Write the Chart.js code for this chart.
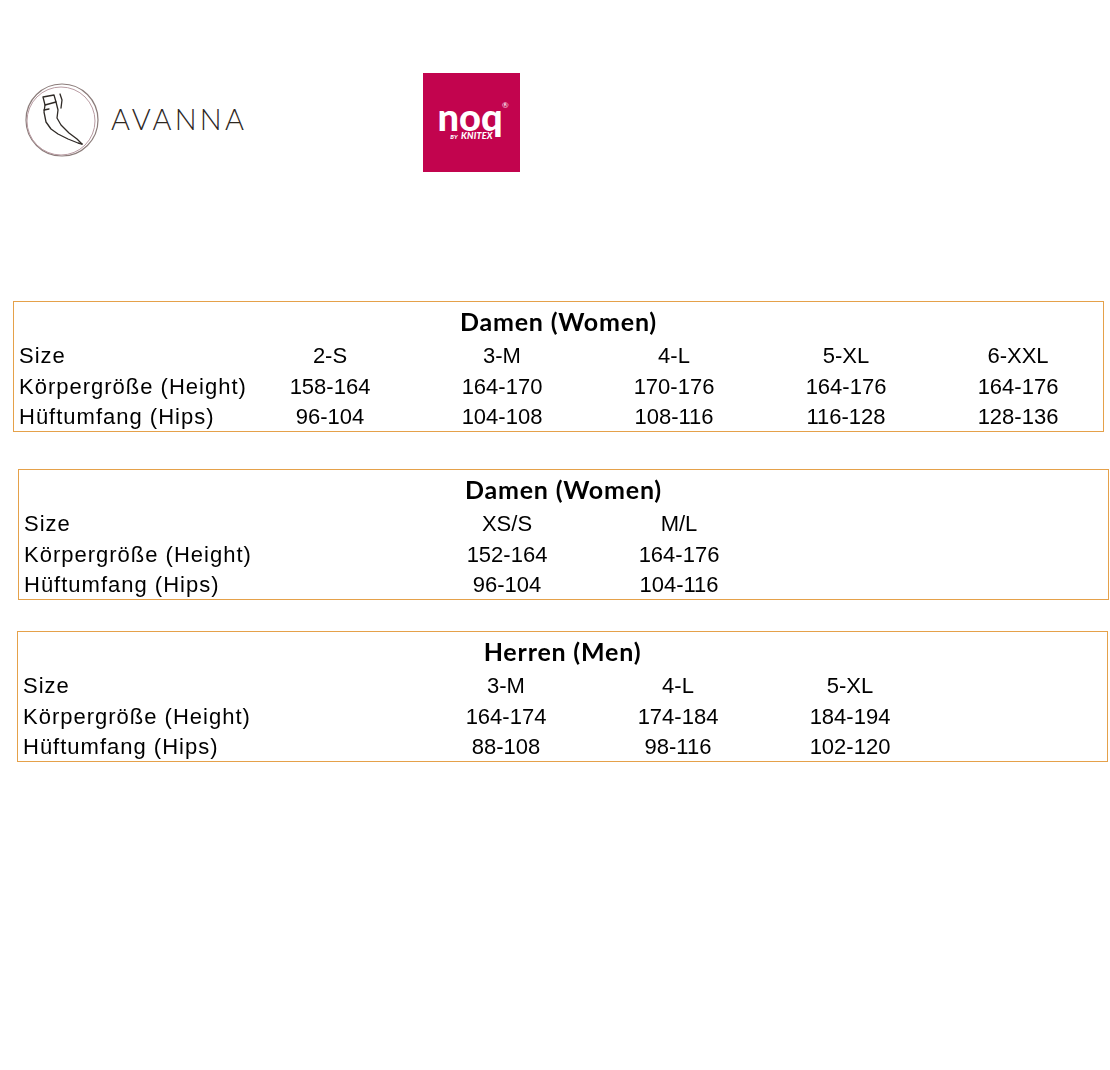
<!DOCTYPE html>
<html>
<head>
<meta charset="utf-8">
<script src="https://cdn.jsdelivr.net/npm/chart.js@4.4.1/dist/chart.umd.min.js"></script>
<style>
  body { margin: 0; background: #fff; width: 1110px; height: 1070px; position: relative; overflow: hidden; }
  canvas.tbl { position: absolute; }
  #avanna-mark { position: absolute; left: 24px; top: 82px; }
  #avanna-text { position: absolute; left: 111px; top: 101px; font: 300 29px Lato, "Open Sans", sans-serif; letter-spacing: 3.2px; color: #2e271f; }
  #noq { position: absolute; left: 423px; top: 73px; width: 97px; height: 99px; background: #c2044e; color: #fff; font-family: Lato, sans-serif; }
  #noq .word { position: absolute; left: 0; width: 94px; top: 20px; text-align: center; font-weight: 900; font-size: 38px; letter-spacing: 0px; }
  #noq .reg { position: absolute; left: 79px; top: 27px; font-size: 8px; }
  #noq .by { position: absolute; left: 0; width: 97px; top: 57px; text-align: center; font-weight: 900; font-style: italic; font-size: 9px; letter-spacing: 0.2px; }
  #noq .by small { font-size: 6px; margin-right: 3px; }
</style>
</head>
<body>
<svg id="avanna-mark" width="76" height="76" viewBox="0 0 76 76">
  <circle cx="38" cy="38" r="36" fill="none" stroke="#8c7d7b" stroke-width="1.2"/>
  <circle cx="37" cy="39" r="34" fill="none" stroke="#b99ca3" stroke-width="1"/>
  <g fill="none" stroke="#2f2a26" stroke-width="1.3" stroke-linejoin="round" stroke-linecap="round">
    <path d="M19 15 L30 13 L32 20 L21 23 Z"/>
    <path d="M21 23 L20 30 L22 40 L27 47 L34 52 L44 57 L54 61 L58 62"/>
    <path d="M32 20 L34 28 L33 36 L37 43 L45 51 L53 57 L58 62"/>
    <path d="M36 12 L38 18 L37 26"/>
    <path d="M20 28 L25 27"/>
  </g>
</svg>
<div id="avanna-text">AVANNA</div>
<div id="noq">
  <div class="word">noq</div>
  <div class="reg">®</div>
  <div class="by"><small>BY</small>KNITEX</div>
</div>

<canvas id="t1" class="tbl" style="left:13px;top:301px" width="1091" height="131"></canvas>
<canvas id="t2" class="tbl" style="left:18px;top:469px" width="1091" height="131"></canvas>
<canvas id="t3" class="tbl" style="left:17px;top:631px" width="1091" height="131"></canvas>

<script>
const rowLabels = ['Size', 'Körpergröße (Height)', 'Hüftumfang (Hips)'];

const damenTitle = 'Damen (Women)';
const damenSizes = ['2-S', '3-M', '4-L', '5-XL', '6-XXL'];
const damenHeight = [[158, 164], [164, 170], [170, 176], [164, 176], [164, 176]];
const damenHips = [[96, 104], [104, 108], [108, 116], [116, 128], [128, 136]];

const damen2Sizes = ['XS/S', 'M/L'];
const damen2Height = [[152, 164], [164, 176]];
const damen2Hips = [[96, 104], [104, 116]];

const herrenTitle = 'Herren (Men)';
const herrenSizes = ['3-M', '4-L', '5-XL'];
const herrenHeight = [[164, 174], [174, 184], [184, 194]];
const herrenHips = [[88, 108], [98, 116], [102, 120]];

const range = r => r[0] + '-' + r[1];

// draws frame, title, row labels and the cell texts at the points' positions
const sizeTable = {
    id: 'sizeTable',
    afterDatasetsDraw(chart, args, opts) {
        const { ctx, chartArea: a, scales: { y } } = chart;
        const L = Math.round(a.left), T = Math.round(a.top);
        const W = Math.round(a.width), H = Math.round(a.height);
        ctx.save();
        // 1px frame
        ctx.fillStyle = '#e5a14a';
        ctx.fillRect(L, T, W, 1);
        ctx.fillRect(L, T + H - 1, W, 1);
        ctx.fillRect(L, T, 1, H);
        ctx.fillRect(L + W - 1, T, 1, H);

        ctx.fillStyle = '#000';
        ctx.textBaseline = 'alphabetic';
        ctx.font = 'bold 25px Lato, "Open Sans", sans-serif';
        ctx.letterSpacing = '0.8px';
        ctx.textAlign = 'center';
        ctx.fillText(opts.title, (a.left + a.right) / 2, y.getPixelForValue(-1.08) + 8.5);

        ctx.font = '22px "Liberation Sans", Arial, sans-serif';
        ctx.letterSpacing = '1px';
        ctx.textAlign = 'left';
        rowLabels.forEach((t, r) => {
            ctx.save();
            if (opts.labelClip) {
                ctx.beginPath();
                ctx.rect(a.left, a.top, opts.labelClip, a.height);
                ctx.clip();
            }
            ctx.fillText(t, a.left + 6, y.getPixelForValue(r) + 8);
            ctx.restore();
        });

        ctx.letterSpacing = '0px';
        ctx.textAlign = 'center';
        chart.data.datasets.forEach((ds, di) => {
            chart.getDatasetMeta(di).data.forEach((pt, i) => {
                ctx.fillText(ds.texts[i], pt.x, pt.y + 8);
            });
        });
        ctx.restore();
    }
};

function makeTable(id, title, sizes, heights, hips, firstCol, labelClip) {
    const canvas = document.getElementById(id);
    const colW = 172, rowH = 30.5, firstRow = 54;
    const xMin = -firstCol / colW;
    const yMin = -firstRow / rowH;
    const rows = [sizes, heights.map(range), hips.map(range)];
    new Chart(canvas.getContext('2d'), {
        type: 'scatter',
        data: {
            datasets: rows.map((texts, r) => ({
                label: rowLabels[r],
                texts: texts,
                data: texts.map((t, i) => ({ x: i, y: r })),
                pointRadius: 0,
                pointHoverRadius: 0
            }))
        },
        options: {
            responsive: false,
            animation: false,
            events: [],
            layout: { padding: 0 },
            plugins: {
                legend: { display: false },
                tooltip: { enabled: false },
                sizeTable: { title: title, labelClip: labelClip }
            },
            scales: {
                x: { type: 'linear', display: false, min: xMin, max: xMin + canvas.width / colW },
                y: { type: 'linear', display: false, reverse: true, min: yMin, max: yMin + canvas.height / rowH }
            }
        },
        plugins: [sizeTable]
    });
}

makeTable('t1', damenTitle, damenSizes, damenHeight, damenHips, 317, 232);
makeTable('t2', damenTitle, damen2Sizes, damen2Height, damen2Hips, 489);
makeTable('t3', herrenTitle, herrenSizes, herrenHeight, herrenHips, 489);
</script>
</body>
</html>
